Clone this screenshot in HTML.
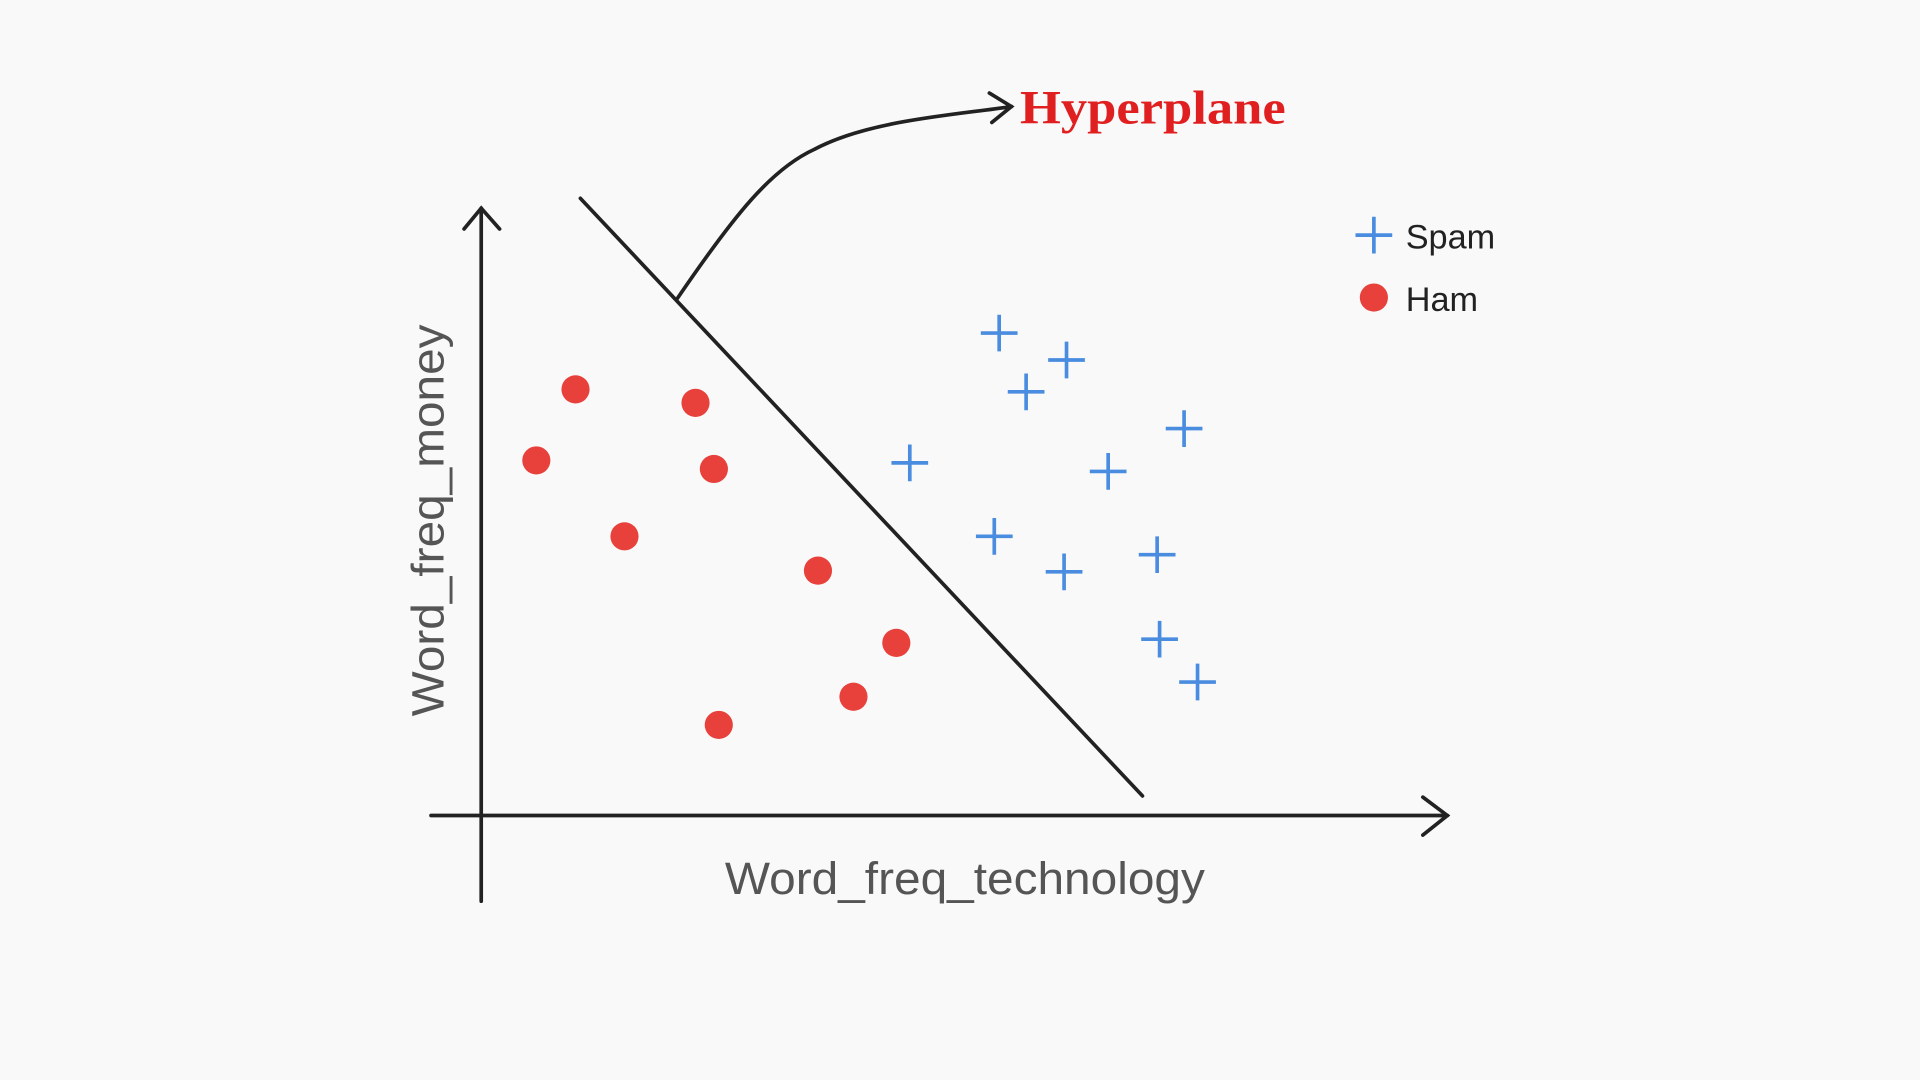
<!DOCTYPE html>
<html><head><style>
html,body{margin:0;padding:0;background:#f9f9f9;}
svg{display:block;}
</style></head><body>
<svg width="1920" height="1080" viewBox="0 0 1568 882" xmlns="http://www.w3.org/2000/svg">
<rect width="1568" height="882" fill="#f9f9f9"/>
<g stroke="#222" stroke-width="3" fill="none" stroke-linecap="round">
<line x1="393" y1="170" x2="393" y2="736"/>
<polyline points="379,187 393,170 408,187"/>
<line x1="352" y1="666" x2="1182" y2="666"/>
<polyline points="1162,651 1182,666 1162,682"/>
<line x1="474" y1="162" x2="933" y2="650"/>
<path d="M553,244 C600,175 630,138 665,122 C710,98 780,94 826,87"/>
<polyline points="808,76 826,87 810,100"/>
</g>
<text x="833" y="101" textLength="217" lengthAdjust="spacingAndGlyphs" font-family="Liberation Serif, serif" font-weight="bold" font-size="39" fill="#e02020">Hyperplane</text>
<g fill="#e8403a">
<circle cx="470" cy="318" r="11.5"/><circle cx="568" cy="329" r="11.5"/><circle cx="438" cy="376" r="11.5"/>
<circle cx="583" cy="383" r="11.5"/><circle cx="510" cy="438" r="11.5"/><circle cx="668" cy="466" r="11.5"/>
<circle cx="732" cy="525" r="11.5"/><circle cx="697" cy="569" r="11.5"/><circle cx="587" cy="592" r="11.5"/>
<circle cx="1122" cy="243" r="11.5"/>
</g>
<g stroke="#4a8de0" stroke-width="3">
<path d="M801,272h30M816,257v30 M856,294h30M871,279v30 M823,320h30M838,305v30 M952,350h30M967,335v30 M728,378h30M743,363v30 M890,385h30M905,370v30 M797,438h30M812,423v30 M854,467h30M869,452v30 M930,453h30M945,438v30 M932,522h30M947,507v30 M963,557h30M978,542v30 M1107,192h30M1122,177v30"/>
</g>
<text x="1148" y="203" font-family="Liberation Sans, sans-serif" font-size="28" fill="#222">Spam</text>
<text x="1148" y="254" font-family="Liberation Sans, sans-serif" font-size="28" fill="#222">Ham</text>
<text x="592" y="730" textLength="392" lengthAdjust="spacingAndGlyphs" font-family="Liberation Sans, sans-serif" font-size="37" fill="#555">Word_freq_technology</text>
<text transform="translate(362,585) rotate(-90)" textLength="320" lengthAdjust="spacingAndGlyphs" font-family="Liberation Sans, sans-serif" font-size="37" fill="#555">Word_freq_money</text>
</svg>
</body></html>
